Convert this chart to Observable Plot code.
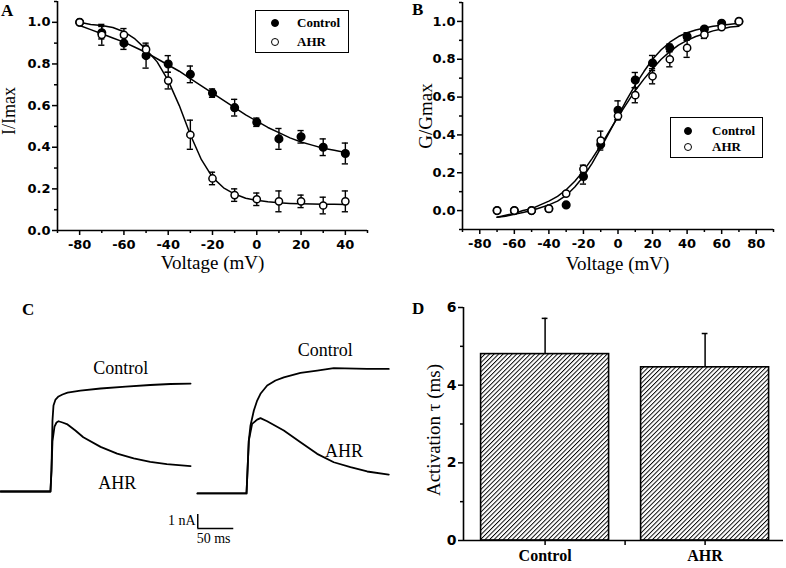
<!DOCTYPE html>
<html><head><meta charset="utf-8">
<script src="https://cdn.jsdelivr.net/npm/d3@7"></script>
<script src="https://cdn.jsdelivr.net/npm/@observablehq/plot@0.6"></script>
<style>
body{margin:0;background:#fff;}
#fig{position:relative;width:786px;height:568px;overflow:hidden;background:#fff;}
.panel{position:absolute;}
.letter{position:absolute;font:bold 17px "Liberation Serif",serif;line-height:1;color:#000;}
.legend{position:absolute;box-sizing:border-box;border:1.5px solid #000;background:#fff;font:bold 13px "Liberation Serif",serif;color:#000;}
.legend .sym{position:absolute;width:8px;height:8px;border-radius:50%;box-sizing:border-box;}
.legend .txt{position:absolute;line-height:1;}
g[aria-label="ylabB"] text{letter-spacing:2px;}
</style>
</head><body>
<div id="fig"></div>
<script>
// ---------- Panel A: I/Imax vs voltage ----------
const voltA = [-80, -70, -60, -50, -40, -30, -20, -10, 0, 10, 20, 30, 40];
const ctrlA = [1.00, 0.95, 0.90, 0.84, 0.80, 0.75, 0.66, 0.59, 0.52, 0.44, 0.45, 0.40, 0.37];
const ctrlAErr = [0, 0.03, 0.03, 0.06, 0.04, 0.04, 0.02, 0.04, 0.02, 0.05, 0.03, 0.04, 0.05];
const ahrA = [1.00, 0.94, 0.94, 0.87, 0.72, 0.46, 0.25, 0.17, 0.15, 0.14, 0.14, 0.12, 0.14];
const ahrAErr = [0, 0.05, 0.03, 0.02, 0.04, 0.07, 0.03, 0.03, 0.03, 0.05, 0.03, 0.04, 0.05];
const fitVoltA = [-80,-75,-70,-65,-60,-55,-50,-45,-40,-35,-30,-25,-20,-15,-10,-5,0,5,10,15,20,25,30,35,40];
const ctrlFitA = [0.985,0.965,0.945,0.925,0.905,0.88,0.855,0.825,0.795,0.765,0.73,0.695,0.66,0.625,0.59,0.555,0.525,0.495,0.47,0.445,0.425,0.41,0.395,0.385,0.375];
const ahrFitA = [1.0,0.99,0.985,0.975,0.955,0.92,0.87,0.81,0.72,0.60,0.46,0.34,0.255,0.205,0.175,0.155,0.145,0.138,0.133,0.13,0.128,0.127,0.126,0.126,0.125];
const xDomA = [-90, 50], yDomA = [0, 1.1];
const xMajorA = [-80, -60, -40, -20, 0, 20, 40];
const xMinorA = [-90, -70, -50, -30, -10, 10, 30, 50];
const yMajorA = [0, 0.2, 0.4, 0.6, 0.8, 1.0];
const yMinorA = [0.1, 0.3, 0.5, 0.7, 0.9, 1.1];

// ---------- Panel B: G/Gmax vs voltage ----------
const voltB = [-70, -60, -50, -40, -30, -20, -10, 0, 10, 20, 30, 40, 50, 60, 70];
const ctrlB = [0.0, 0.0, 0.0, 0.01, 0.03, 0.18, 0.35, 0.53, 0.69, 0.78, 0.86, 0.92, 0.96, 0.99, 1.0];
const ctrlBErr = [0, 0, 0, 0.01, 0, 0.04, 0.02, 0.05, 0.04, 0.04, 0.02, 0.02, 0.01, 0.01, 0];
const ahrB = [0.0, 0.0, 0.0, 0.01, 0.09, 0.22, 0.37, 0.50, 0.61, 0.71, 0.80, 0.86, 0.93, 0.97, 1.0];
const ahrBErr = [0, 0, 0, 0.01, 0.01, 0.02, 0.05, 0.02, 0.04, 0.04, 0.04, 0.05, 0.02, 0.01, 0];
const fitVoltB = [-70,-65,-60,-55,-50,-45,-40,-35,-30,-25,-20,-15,-10,-5,0,5,10,15,20,25,30,35,40,45,50,55,60,65,70];
const ctrlFitB = [-0.035,-0.03,-0.02,-0.01,0.0,0.015,0.03,0.05,0.08,0.125,0.18,0.25,0.33,0.415,0.50,0.585,0.665,0.735,0.80,0.85,0.89,0.92,0.94,0.955,0.965,0.975,0.98,0.985,0.99];
const ahrFitB = [-0.035,-0.025,-0.015,0.0,0.01,0.03,0.05,0.075,0.11,0.155,0.21,0.275,0.345,0.42,0.495,0.565,0.635,0.695,0.75,0.80,0.84,0.875,0.90,0.92,0.935,0.95,0.96,0.97,0.975];
const xDomB = [-90, 90], yDomB = [-0.1, 1.1];
const xMajorB = [-80, -60, -40, -20, 0, 20, 40, 60, 80];
const xMinorB = [-90, -70, -50, -30, -10, 10, 30, 50, 70, 90];
const yMajorB = [0, 0.2, 0.4, 0.6, 0.8, 1.0];
const yMinorB = [-0.1, 0.1, 0.3, 0.5, 0.7, 0.9, 1.1];

// ---------- Panel C: current traces (time in ms, current in nA) ----------
const trLeftCtrlT = [0, 69.4, 70.8, 72.2, 73.6, 76.4, 80.6, 86.1, 93.1, 111, 139, 174, 208, 236, 264];
const trLeftCtrlI = [0, 0, 1.5, 5.07, 6.14, 6.57, 6.79, 6.93, 7.07, 7.21, 7.36, 7.5, 7.61, 7.68, 7.71];
const trLeftAhrT = [0, 69.4, 70.8, 72.2, 75, 77.8, 80.6, 86.1, 93.1, 104, 115, 139, 162, 185, 208, 231, 264];
const trLeftAhrI = [0, 0, 1.5, 3.6, 4.64, 4.93, 5.02, 4.93, 4.79, 4.36, 3.88, 3.19, 2.71, 2.36, 2.12, 1.95, 1.81];
const trRightCtrlT = [273.6, 341.7, 343.1, 344.9, 347.2, 351.9, 356.5, 361.1, 370.4, 381.9, 393.5, 416.7, 439.8, 462.9, 509.3, 539.3];
const trRightCtrlI = [-0.14, -0.14, 1.5, 3.64, 4.71, 5.79, 6.5, 6.98, 7.57, 7.93, 8.16, 8.48, 8.64, 8.81, 8.76, 8.76];
const trRightAhrT = [273.6, 341.7, 343.1, 344.9, 349.5, 356.5, 361.1, 370.4, 393.5, 416.7, 439.8, 462.9, 486.1, 509.3, 539.3];
const trRightAhrI = [-0.14, -0.14, 1.5, 3.64, 4.83, 5.14, 5.24, 5.02, 4.36, 3.52, 2.69, 2.09, 1.74, 1.43, 1.21];
const traceLabels = ["Control", "AHR", "Control", "AHR"];
const traceLabelT = [167, 162, 451, 477];
const traceLabelI = [8.8, 0.57, 10.1, 2.9];
const scaleBar = {t: 274, i: -2.64, dt: 50, di: 1};
const scaleLabels = ["1 nA", "50 ms"];
const scaleLabelT = [271, 296];
const scaleLabelI = [-2.07, -3.36];
const xDomC = [0, 541.7], yDomC = [-5.5, 14.36];

// ---------- Panel D: activation tau ----------
const groupsD = ["Control", "AHR"];
const tauD = [4.8, 4.46];
const tauErrD = [0.92, 0.87];
const xDomD = [0.49, 2.49], yDomD = [0, 6];
const xTicksD = [1, 1.5, 2];
const yMajorD = [0, 2, 4, 6];
const yMinorD = [1, 3, 5];

const tickFont = {fontFamily: "DejaVu Sans", fontWeight: "bold", fontSize: 13};
const serif = "Liberation Serif, Times New Roman, serif";
const baseStyle = {background: "transparent", overflow: "visible", color: "black"};

function axisMarks(xDom, yDom, xMajor, xMinor, yMajor, yMinor, xFmt, yFmt) {
  return [
    Plot.ruleX([xDom[0]], {strokeWidth: 1.6}),
    Plot.ruleY([yDom[0]], {strokeWidth: 1.6}),
    Plot.axisX({ticks: xMajor, tickSize: 5, tickPadding: 4, tickFormat: xFmt, label: null, strokeWidth: 1.5, ...tickFont}),
    Plot.axisX({ticks: xMinor, tickSize: 3, tickFormat: () => "", label: null, strokeWidth: 1.5}),
    Plot.axisY({ticks: yMajor, tickSize: 5, tickPadding: 2, tickFormat: yFmt, label: null, strokeWidth: 1.5, ...tickFont}),
    Plot.axisY({ticks: yMinor, tickSize: 3, tickFormat: () => "", label: null, strokeWidth: 1.5})
  ];
}

function seriesMarks(volt, ctrl, ctrlErr, ahr, ahrErr, fitV, ctrlFit, ahrFit, cap) {
  const pts = volt.map((v, i) => ({v, c: ctrl[i], ce: ctrlErr[i], a: ahr[i], ae: ahrErr[i]}));
  const fit = fitV.map((v, i) => ({v, c: ctrlFit[i], a: ahrFit[i]}));
  const errs = [
    ...pts.filter(d => d.ce > 0).map(d => ({v: d.v, lo: d.c - d.ce, hi: d.c + d.ce})),
    ...pts.filter(d => d.ae > 0).map(d => ({v: d.v, lo: d.a - d.ae, hi: d.a + d.ae}))
  ];
  return [
    Plot.line(fit, {x: "v", y: "c", stroke: "black", strokeWidth: 1.5}),
    Plot.line(fit, {x: "v", y: "a", stroke: "black", strokeWidth: 1.5}),
    Plot.ruleX(errs, {x: "v", y1: "lo", y2: "hi", strokeWidth: 1.4}),
    Plot.ruleY(errs, {y: "hi", x1: d => d.v - cap, x2: d => d.v + cap, strokeWidth: 1.4}),
    Plot.ruleY(errs, {y: "lo", x1: d => d.v - cap, x2: d => d.v + cap, strokeWidth: 1.4}),
    Plot.dot(pts, {x: "v", y: "c", r: 3.8, fill: "black", stroke: "black"}),
    Plot.dot(pts, {x: "v", y: "a", r: 3.6, fill: "white", stroke: "black", strokeWidth: 1.5})
  ];
}

const fig = document.getElementById("fig");
function place(node, left, top) {
  node.classList.add("panel");
  node.style.left = left + "px";
  node.style.top = top + "px";
  fig.appendChild(node);
}

// Panel A
const plotA = Plot.plot({
  width: 390, height: 285, marginLeft: 57, marginRight: 23, marginTop: 1, marginBottom: 55,
  x: {domain: xDomA}, y: {domain: yDomA}, style: baseStyle,
  marks: [
    ...seriesMarks(voltA, ctrlA, ctrlAErr, ahrA, ahrAErr, fitVoltA, ctrlFitA, ahrFitA, 1.4),
    ...axisMarks(xDomA, yDomA, xMajorA, xMinorA, yMajorA, yMinorA, d => String(d), d3.format(".1f")),
    Plot.text(["Voltage (mV)"], {frameAnchor: "left", textAnchor: "middle", lineAnchor: "middle", dx: 155, dy: 147, fontSize: 19, fontFamily: serif}),
    Plot.text(["I/Imax"], {frameAnchor: "left", textAnchor: "middle", lineAnchor: "middle", rotate: -90, dx: -48, dy: -5, fontSize: 18, fontFamily: serif})
  ]
});
place(plotA, 0, 0);

// Panel B
const plotB = Plot.plot({
  width: 396, height: 285, marginLeft: 72, marginRight: 13, marginTop: 2, marginBottom: 56,
  x: {domain: xDomB}, y: {domain: yDomB}, style: baseStyle,
  marks: [
    ...seriesMarks(voltB, ctrlB, ctrlBErr, ahrB, ahrBErr, fitVoltB, ctrlFitB, ahrFitB, 1.8),
    ...axisMarks(xDomB, yDomB, xMajorB, xMinorB, yMajorB, yMinorB, d => String(d), d3.format(".1f")),
    Plot.text(["Voltage (mV)"], {frameAnchor: "left", textAnchor: "middle", lineAnchor: "middle", dx: 155, dy: 148, fontSize: 19, fontFamily: serif}),
    Plot.text(["G/Gmax"], {frameAnchor: "left", textAnchor: "middle", lineAnchor: "middle", rotate: -90, dx: -37, dy: 0, fontSize: 19, fontFamily: serif, ariaLabel: "ylabB"})
  ]
});
place(plotB, 390, 0);

// Panel C
const traces = [
  ...trLeftCtrlT.map((t, i) => ({id: "lc", t, i: trLeftCtrlI[i]})),
  ...trLeftAhrT.map((t, i) => ({id: "la", t, i: trLeftAhrI[i]})),
  ...trRightCtrlT.map((t, i) => ({id: "rc", t, i: trRightCtrlI[i]})),
  ...trRightAhrT.map((t, i) => ({id: "ra", t, i: trRightAhrI[i]}))
];
const tLabels = traceLabels.map((s, k) => ({s, t: traceLabelT[k], i: traceLabelI[k]}));
const sLabels = scaleLabels.map((s, k) => ({s, t: scaleLabelT[k], i: scaleLabelI[k]}));
const plotC = Plot.plot({
  width: 390, height: 278, margin: 0,
  x: {domain: xDomC, axis: null}, y: {domain: yDomC, axis: null}, style: baseStyle,
  marks: [
    Plot.line(traces, {x: "t", y: "i", z: "id", stroke: "black", strokeWidth: 1.8}),
    Plot.text(tLabels, {x: "t", y: "i", text: "s", fontSize: 18, fontFamily: serif}),
    Plot.ruleX([scaleBar], {x: "t", y1: "i", y2: d => d.i + d.di, strokeWidth: 1.5}),
    Plot.ruleY([scaleBar], {y: "i", x1: "t", x2: d => d.t + d.dt, strokeWidth: 1.5}),
    Plot.text(sLabels.slice(0, 1), {x: "t", y: "i", text: "s", textAnchor: "end", fontSize: 14, fontFamily: serif}),
    Plot.text(sLabels.slice(1), {x: "t", y: "i", text: "s", fontSize: 14, fontFamily: serif})
  ]
});
place(plotC, 0, 290);

// Panel D
const rowsD = groupsD.map((g, k) => ({g, pos: k + 1, tau: tauD[k], err: tauErrD[k]}));
const plotD = Plot.plot({
  width: 396, height: 278, marginLeft: 73, marginRight: 3, marginTop: 17, marginBottom: 28,
  x: {domain: xDomD}, y: {domain: yDomD}, style: baseStyle,
  marks: [
    Plot.rect(rowsD, {x1: d => d.pos - 0.4, x2: d => d.pos + 0.4, y1: d => 0, y2: "tau", fill: "url(#hatchD)", stroke: "black", strokeWidth: 1.6}),
    Plot.ruleX(rowsD, {x: "pos", y1: "tau", y2: d => d.tau + d.err, strokeWidth: 1.5}),
    Plot.ruleY(rowsD, {y: d => d.tau + d.err, x1: d => d.pos - 0.018, x2: d => d.pos + 0.018, strokeWidth: 1.5}),
    Plot.ruleX([xDomD[0]], {strokeWidth: 1.6}),
    Plot.ruleY([yDomD[0]], {strokeWidth: 1.6}),
    Plot.axisX({ticks: xTicksD, tickSize: 5, tickPadding: 4, label: null, strokeWidth: 1.5,
      tickFormat: d => (rowsD.find(r => r.pos === d) || {g: ""}).g, fontFamily: serif, fontSize: 16, fontWeight: "bold"}),
    Plot.axisY({ticks: yMajorD, tickSize: 5, tickPadding: 2, label: null, strokeWidth: 1.5, tickFormat: d => String(d), ...tickFont, fontSize: 14}),
    Plot.axisY({ticks: yMinorD, tickSize: 3, tickFormat: () => "", label: null, strokeWidth: 1.5}),
    Plot.text(["Activation \u03c4 (ms)"], {frameAnchor: "left", textAnchor: "middle", lineAnchor: "middle", rotate: -90, dx: -30, dy: 6, fontSize: 19, fontFamily: serif})
  ]
});
plotD.insertAdjacentHTML("afterbegin",
  '<defs><pattern id="hatchD" width="3.2" height="3.2" patternUnits="userSpaceOnUse" patternTransform="rotate(45)">' +
  '<rect width="3.2" height="3.2" fill="white"/><line x1="0" y1="0" x2="0" y2="3.2" stroke="black" stroke-width="1.9"/></pattern></defs>');
place(plotD, 390, 290);

// Panel letters
[["A", 1, 2], ["B", 412, 1], ["C", 22, 301], ["D", 412, 300]].forEach(([s, x, y]) => {
  const d = document.createElement("div");
  d.className = "letter"; d.textContent = s;
  d.style.left = x + "px"; d.style.top = y + "px";
  fig.appendChild(d);
});

// Legends
function legend(left, top, w, h, symX, rowY, txtX) {
  const box = document.createElement("div");
  box.className = "legend";
  Object.assign(box.style, {left: left + "px", top: top + "px", width: w + "px", height: h + "px"});
  [["Control", "black", "black"], ["AHR", "white", "black"]].forEach(([name, fill, stroke], k) => {
    const s = document.createElement("div");
    s.className = "sym";
    Object.assign(s.style, {left: (symX - 4) + "px", top: (rowY[k] - 4) + "px", background: fill, border: "1.5px solid " + stroke});
    box.appendChild(s);
    const t = document.createElement("div");
    t.className = "txt"; t.textContent = name;
    Object.assign(t.style, {left: txtX + "px", top: (rowY[k] - 7) + "px"});
    box.appendChild(t);
  });
  fig.appendChild(box);
}
legend(255, 10, 94, 43, 19, [12, 31], 41);
legend(670, 117, 93, 41, 17, [13, 29], 41);
</script>
</body></html>
